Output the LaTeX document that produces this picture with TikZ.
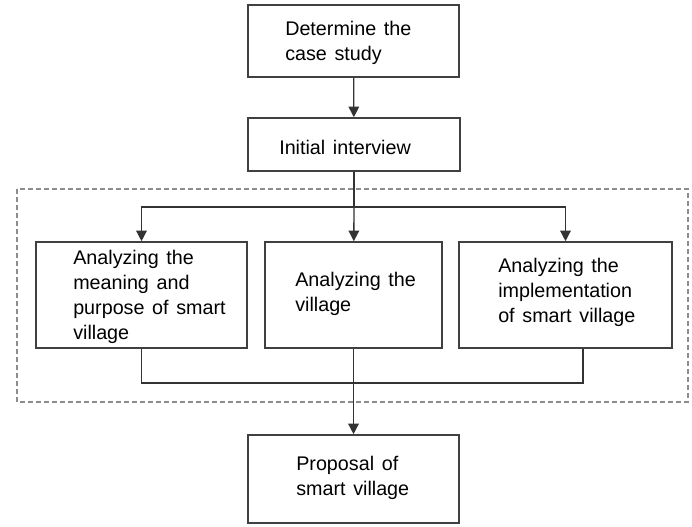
\documentclass[tikz,border=0pt]{standalone}
\usepackage{fontspec}
\setmainfont[WordSpace={1.4}]{Liberation Sans}
\usetikzlibrary{arrows.meta}
\tikzset{
  box/.style={draw=black!75,line width=1.2pt,inner sep=0pt},
  txt/.style={inner sep=0pt,align=left,anchor=west,
    font=\fontsize{14.8}{18.75}\selectfont},
  arr/.style={draw=black!80,line width=1pt,-{Triangle[length=8pt,width=8pt]}},
  link/.style={draw=black!80,line width=1pt}
}
\begin{document}
\begin{tikzpicture}[x=0.75pt,y=-0.75pt,line join=miter]
  \useasboundingbox (0,0) rectangle (692,526);
  % dashed frame round the three analyses
  \draw[black!45,line width=0.9pt,dash pattern=on 3.5pt off 2.5pt]
    (17,189) rectangle (688,402);
  % boxes of the main column
  \node[box,minimum width=158.25pt,minimum height=54pt] (det) at (353.5,41) {};
  \node[box,minimum width=159pt,minimum height=39.75pt] (init) at (354,144.5) {};
  \node[box,minimum width=158.25pt,minimum height=79.5pt] (mean) at (141.5,295) {};
  \node[box,minimum width=132.75pt,minimum height=79.5pt] (vill) at (353.5,295) {};
  \node[box,minimum width=159.75pt,minimum height=79.5pt] (impl) at (565.5,295) {};
  \node[box,minimum width=158.25pt,minimum height=66pt] (prop) at (353.5,479) {};
  % texts
  \node[txt] (dett) at (285,43) {Determine the\\case study};
  \node[txt] (initt) at (279,147) {Initial interview};
  \node[txt] (meant) at (73,297) {Analyzing the\\meaning and\\purpose of smart\\village};
  \node[txt] (villt) at (295,294) {Analyzing the\\village};
  \node[txt] (implt) at (498,292) {Analyzing the\\implementation\\of smart village};
  \node[txt] (propt) at (296,478) {Proposal of\\smart village};
  % connectors
  \coordinate (split) at (354,207);
  \coordinate (merge) at (354,383);
  \draw[arr] (det) -- (init);
  \draw[link] (init) -- (split);
  \draw[arr] (split) -| (mean);
  \draw[arr] (split) -- (vill);
  \draw[arr] (split) -| (impl);
  \draw[link] (mean) |- (merge) -| ([xshift=13pt]impl.south);
  \draw[arr] (vill) -- (prop);
\end{tikzpicture}
\end{document}
